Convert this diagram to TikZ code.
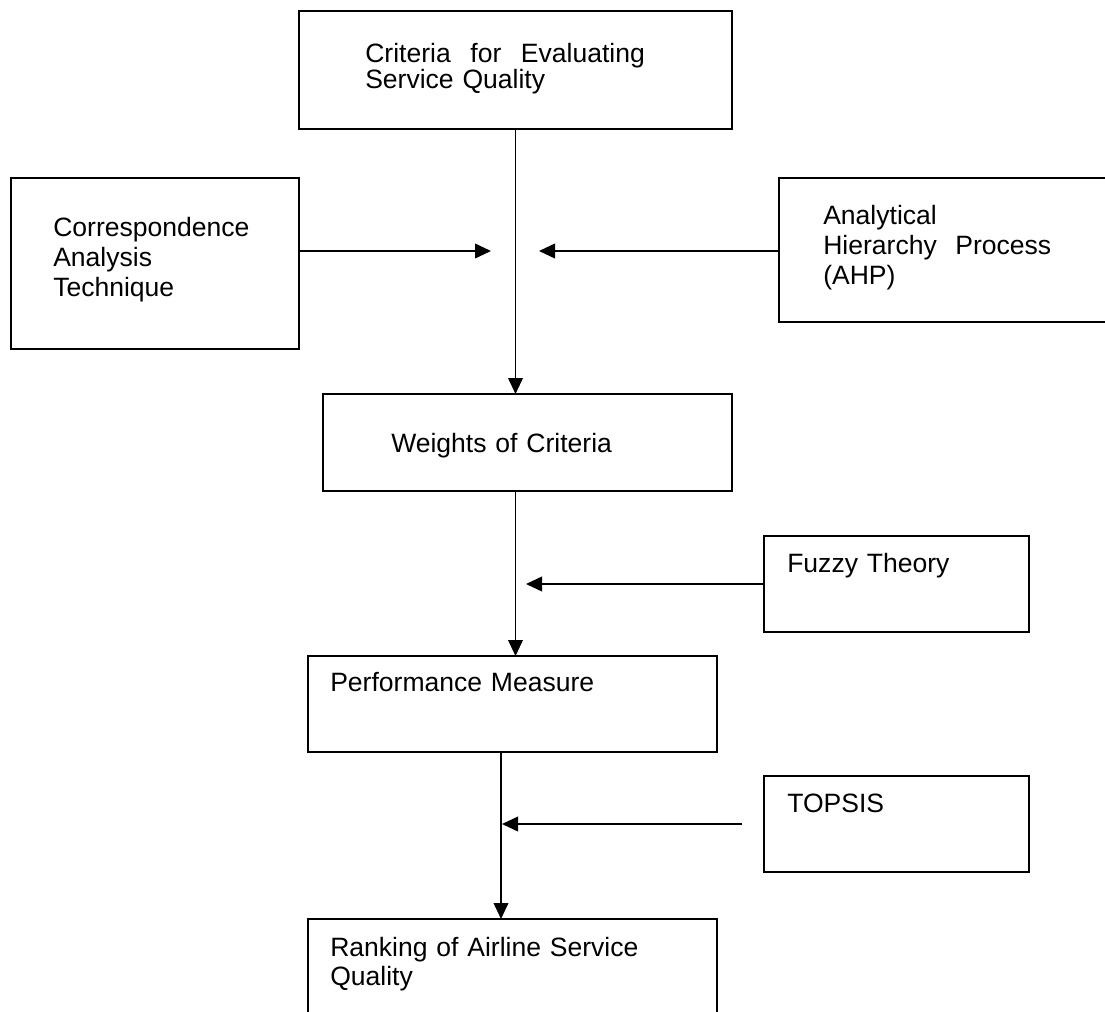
\documentclass[tikz,border=0pt]{standalone}
\usepackage{fontspec}
\setmainfont{Liberation Sans}
\usetikzlibrary{arrows.meta,fit}
\begin{document}
\begin{tikzpicture}[x=0.75pt,y=-0.75pt,
  box/.style={draw, line width=1.5pt, inner sep=0pt, outer sep=0pt, rectangle},
  txt/.style={anchor=base west, inner sep=0pt, align=left, text width=300pt,
              font=\fontsize{19.9}{22.5}\selectfont},
  arr/.style={line width=1.3pt, -{Triangle[length=12pt,width=11pt]}}]
\useasboundingbox (0,0) rectangle (1105,1012);
% boxes
\node[box, fit={(299,11) (732,129)}] (top) {};
\node[box, fit={(11,178) (299,349)}] (corr) {};
\node[box, fit={(779,178) (1130,322)}] (ahp) {};
\node[box, fit={(323,394) (732,491)}] (weights) {};
\node[box, fit={(764,536) (1029,632)}] (fuzzy) {};
\node[box, fit={(308,656) (717,752)}] (pm) {};
\node[box, fit={(764,776) (1029,872)}] (topsis) {};
\node[box, fit={(308,919) (717,1040)}] (rank) {};
% texts
\node[txt, font=\fontsize{19.9}{19.5}\selectfont] (ttop) at (365,63) {Criteria\hspace{0.74em}for\hspace{0.74em}Evaluating\\Service Quality};
\node[txt] (tcorr) at (53,237) {Correspondence\\Analysis\\Technique};
\node[txt] (tahp) at (823,225) {Analytical\\Hierarchy\hspace{0.7em}Process\\(AHP)};
\node[txt] (tweights) at (391,452) {Weights of Criteria};
\node[txt] (tfuzzy) at (787,572) {Fuzzy Theory};
\node[txt] (tpm) at (330,691) {Performance Measure};
\node[txt] (ttopsis) at (787,812) {TOPSIS};
\node[txt, font=\fontsize{19.9}{21.75}\selectfont] (trank) at (330,956) {Ranking of Airline Service\\Quality};
% free ends
\coordinate (cl) at (491,251);
\coordinate (cr) at (539,251);
\coordinate (cf) at (526,584);
\coordinate (px) at (501,0);
\coordinate (ts) at (742,824);
\coordinate (te) at (502,824);
% connectors
\draw[arr] (top.south) -- (top.south |- weights.north);
\draw[arr] (corr.east |- cl) -- (cl);
\draw[arr] (ahp.west |- cr) -- (cr);
\draw[arr] (top.south |- weights.south) -- (top.south |- pm.north);
\draw[arr] (fuzzy.west) -- (cf);
\draw[arr] (px |- pm.south) -- (px |- rank.north);
\draw[arr] (ts) -- (te);
\end{tikzpicture}
\end{document}
